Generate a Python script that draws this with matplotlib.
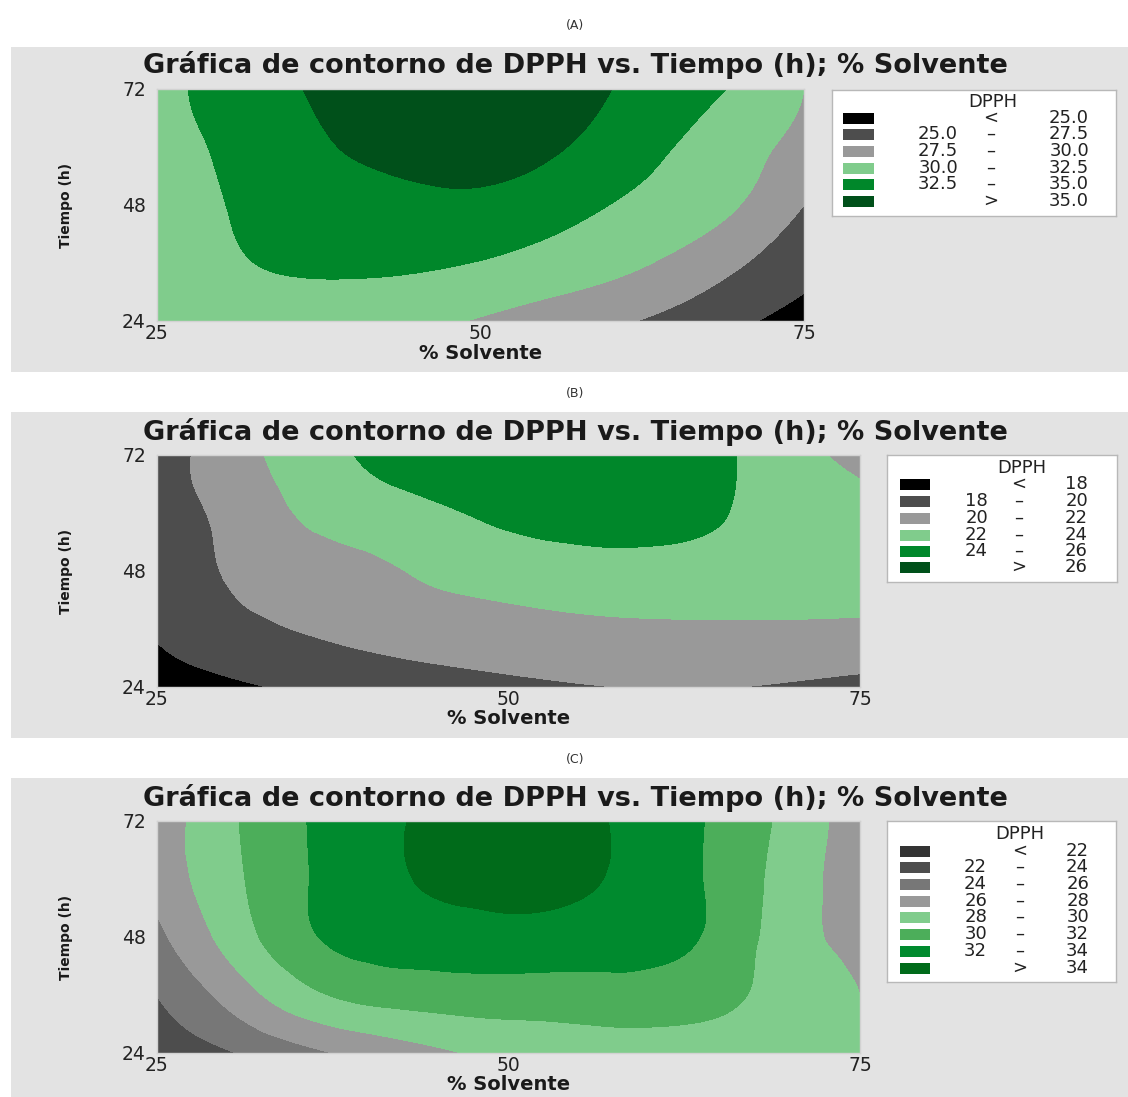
import numpy as np
import matplotlib.pyplot as plt
import matplotlib.tri as mtri
from matplotlib.patches import Rectangle

# Rejilla de lectura: % solvente (columnas) y tiempo en horas (filas)
solvente = [25, 31.25, 37.5, 43.75, 50, 56.25, 62.5, 68.75, 75]
tiempo = [24, 36, 48, 60, 72]

# DPPH, filas de 24 h a 72 h
dpph_a = [
    [30.6, 31.1, 31.2, 30.8, 29.8, 28.6, 27.4, 25.8, 23.9],
    [30.9, 32.3, 32.9, 32.9, 32.4, 31.4, 30.2, 28.2, 25.9],
    [31.3, 32.7, 33.8, 34.4, 34.5, 33.4, 32.0, 30.5, 27.5],
    [31.6, 33.1, 34.7, 35.6, 35.8, 35.1, 33.3, 31.3, 29.2],
    [31.8, 33.6, 35.3, 36.2, 36.4, 35.8, 34.4, 32.6, 30.0],
]
dpph_b = [
    [16.9, 17.8, 18.6, 19.2, 19.6, 19.95, 20.1, 19.9, 19.5],
    [18.2, 19.6, 20.3, 20.9, 21.3, 21.6, 21.7, 21.7, 21.6],
    [18.6, 20.4, 21.2, 22.2, 22.9, 23.3, 23.4, 23.3, 23.1],
    [19.0, 20.9, 22.7, 23.6, 24.4, 24.8, 24.4, 23.6, 22.8],
    [19.0, 21.5, 23.6, 24.8, 25.4, 25.6, 25.0, 23.2, 21.3],
]
dpph_c = [
    [22.9, 24.2, 26.0, 27.4, 28.5, 29.0, 29.3, 29.2, 28.6],
    [24.0, 27.3, 30.1, 30.9, 31.1, 31.1, 30.8, 29.6, 28.0],
    [25.5, 29.4, 32.3, 33.0, 33.3, 33.1, 32.4, 29.5, 27.3],
    [26.7, 30.0, 32.6, 34.1, 34.7, 34.1, 32.5, 29.7, 27.0],
    [26.8, 30.2, 32.6, 34.2, 35.0, 34.2, 32.5, 30.0, 26.9],
]

niveles_a = [25.0, 27.5, 30.0, 32.5, 35.0]
niveles_b = [18, 20, 22, 24, 26]
niveles_c = [22, 24, 26, 28, 30, 32, 34]

colores_a = ['#000000', '#4d4d4d', '#999999', '#80cc8c', '#00872a', '#00501a']
colores_b = ['#000000', '#4d4d4d', '#999999', '#80cc8c', '#00872a', '#00501a']
colores_c = ['#333333', '#4d4d4d', '#777777', '#999999', '#80cc8c', '#4cae5a',
             '#008a2e', '#006b1a']

W, H = 1128, 1097
fig = plt.figure(figsize=(W / 100, H / 100), dpi=100)


def caja(x0, y0, x1, y1):
    return [x0 / W, 1 - y1 / H, (x1 - x0) / W, (y1 - y0) / H]


# geometria de cada panel en pixeles
paneles = [
    dict(letra='(A)', z=dpph_a, niveles=niveles_a, colores=colores_a, fmt='{:.1f}',
         fondo=(11, 47, W, 372), letra_y=25, titulo_y=65, graf=(157, 89, 804, 321),
         xlab_y=353, ylab_x=66,
         ley=(832, 90, 1116, 216), parche=(11, 42), col=(126, 159, 257),
         ley_tit=(161, 12), filas=[28, 44, 61, 78, 94, 111]),
    dict(letra='(B)', z=dpph_b, niveles=niveles_b, colores=colores_b, fmt='{:d}',
         fondo=(11, 412, W, 738), letra_y=393, titulo_y=432, graf=(157, 455, 860, 687),
         xlab_y=719, ylab_x=66,
         ley=(887, 455, 1117, 582), parche=(13, 43), col=(101, 132, 201),
         ley_tit=(135, 13), filas=[29, 46, 63, 80, 96, 112]),
    dict(letra='(C)', z=dpph_c, niveles=niveles_c, colores=colores_c, fmt='{:d}',
         fondo=(11, 778, W, H), letra_y=760, titulo_y=798, graf=(157, 821, 860, 1053),
         xlab_y=1085, ylab_x=66,
         ley=(887, 821, 1116, 982), parche=(13, 43), col=(100, 133, 202),
         ley_tit=(133, 13), filas=[30, 46, 63, 80, 96, 113, 130, 147]),
]

# triangulacion de la rejilla (dos triangulos por celda)
X, Y = np.meshgrid(solvente, tiempo)
nx, ny = len(solvente), len(tiempo)
triangulos = []
for j in range(ny - 1):
    for i in range(nx - 1):
        k = j * nx + i
        triangulos.append([k, k + 1, k + nx + 1])
        triangulos.append([k, k + nx + 1, k + nx])
tri = mtri.Triangulation(X.ravel(), Y.ravel(), triangulos)
refinador = mtri.UniformTriRefiner(tri)

for p in paneles:
    x0, y0, x1, y1 = p['fondo']
    fig.patches.append(Rectangle((x0 / W, 1 - y1 / H), (x1 - x0) / W, (y1 - y0) / H,
                                 transform=fig.transFigure, facecolor='#e3e3e3',
                                 edgecolor='none', zorder=-10))
    fig.text(575 / W, 1 - p['letra_y'] / H, p['letra'], ha='center', va='center',
             fontsize=9, color='#333333')
    fig.text(575 / W, 1 - p['titulo_y'] / H,
             'Gráfica de contorno de DPPH vs. Tiempo (h); % Solvente',
             ha='center', va='center', fontsize=19.5, fontweight='bold', color='#1a1a1a')

    gx0, gy0, gx1, gy1 = p['graf']
    ax = fig.add_axes(caja(gx0, gy0, gx1, gy1))
    z = np.array(p['z']).ravel()
    interp = mtri.CubicTriInterpolator(tri, z, kind='min_E')
    tri_f, z_f = refinador.refine_field(z, triinterpolator=interp, subdiv=4)
    niveles = [-1000] + list(p['niveles']) + [1000]
    ax.tricontourf(tri_f, z_f, levels=niveles, colors=p['colores'])
    ax.set_xlim(25, 75)
    ax.set_ylim(24, 72)
    ax.set_xticks([25, 50, 75])
    ax.set_yticks([24, 48, 72])
    ax.tick_params(length=0, labelsize=13.5, colors='#222222')
    ax.tick_params(axis='x', pad=2)
    ax.tick_params(axis='y', pad=8)
    for s in ax.spines.values():
        s.set_color('#d2d2d2')
        s.set_linewidth(1)

    fig.text((gx0 + gx1) / 2 / W, 1 - p['xlab_y'] / H, '% Solvente', ha='center',
             va='center', fontsize=14, fontweight='bold', color='#1a1a1a')
    fig.text(p['ylab_x'] / W, 1 - (gy0 + gy1) / 2 / H, 'Tiempo (h)', ha='center',
             va='center', rotation=90, fontsize=10, fontweight='bold', color='#1a1a1a')

    # leyenda estilo Minitab
    lx0, ly0, lx1, ly1 = p['ley']
    lax = fig.add_axes(caja(lx0, ly0, lx1, ly1))
    lax.set_xlim(0, lx1 - lx0)
    lax.set_ylim(ly1 - ly0, 0)
    lax.set_xticks([])
    lax.set_yticks([])
    lax.set_facecolor('white')
    for s in lax.spines.values():
        s.set_color('#b8b8b8')
        s.set_linewidth(1)
    lax.text(p['ley_tit'][0], p['ley_tit'][1], 'DPPH', ha='center', va='center',
             fontsize=13, color='#222222')
    c_izq, c_guion, c_der = p['col']
    px0, px1 = p['parche']
    lv = p['niveles']
    n = len(p['colores'])
    for i, (fy, color) in enumerate(zip(p['filas'], p['colores'])):
        lax.add_patch(Rectangle((px0, fy - 5.5), px1 - px0, 11, facecolor=color,
                                edgecolor='none'))
        if i == 0:
            izq, medio, der = '', '<', p['fmt'].format(lv[0])
        elif i == n - 1:
            izq, medio, der = '', '>', p['fmt'].format(lv[-1])
        else:
            izq, medio, der = p['fmt'].format(lv[i - 1]), '–', p['fmt'].format(lv[i])
        lax.text(c_izq, fy, izq, ha='right', va='center', fontsize=13, color='#222222')
        lax.text(c_guion, fy, medio, ha='center', va='center', fontsize=13,
                 color='#222222')
        lax.text(c_der, fy, der, ha='right', va='center', fontsize=13, color='#222222')

fig.savefig('out.png', dpi=100, facecolor='white')
